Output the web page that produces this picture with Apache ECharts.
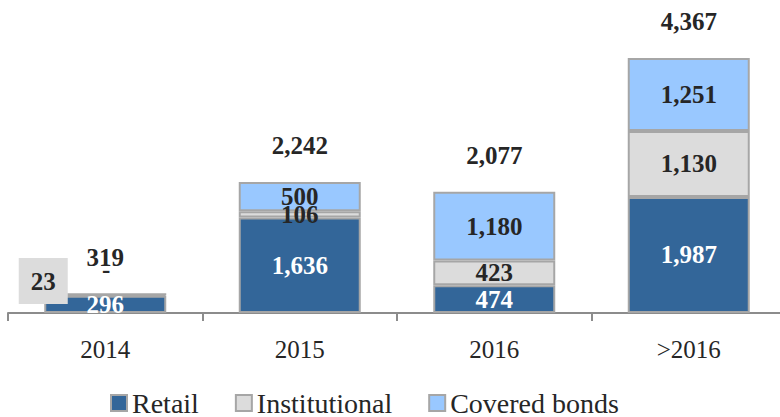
<!DOCTYPE html>
<html>
<head>
<meta charset="utf-8">
<script src="https://cdn.jsdelivr.net/npm/echarts@6/dist/echarts.min.js"></script>
<style>
  html, body { margin: 0; padding: 0; background: #fff; }
  #chart { width: 780px; height: 417px; }
</style>
</head>
<body>
<div id="chart"></div>
<script>
var categories = ['2014', '2015', '2016', '>2016'];
var retail = [296, 1636, 474, 1987];
var institutional = [23, 106, 423, 1130];
var covered = [0, 500, 1180, 1251];
var totals = [319, 2242, 2077, 4367];

var font = 'Liberation Serif';
var ink = '#262626';
var edge = '#a6a6a6';

function fmt(v) {
  return v === 0 ? '-' : v.toLocaleString('en-US');
}

var chart = echarts.init(document.getElementById('chart'), null, { renderer: 'svg' });

var labelBase = {
  show: true,
  position: 'inside',
  fontFamily: font,
  fontWeight: 'bold',
  fontSize: 25,
  color: ink,
  opacity: 1,
  formatter: function(p) { return fmt(p.value); }
};

// 2014 institutional value sits in a grey box to the left of the bar
var instData = institutional.map(function(v, i) {
  if (i === 0) {
    return {
      value: v,
      label: {
        offset: [-62, -14],
        backgroundColor: '#dcdcdc',
        padding: [10, 12],
        lineHeight: 26
      }
    };
  }
  return v;
});

var coveredData = covered.map(function(v, i) {
  if (v === 0) return { value: v, label: { offset: [1, -25] } };
  return v;
});

chart.setOption({
  animation: false,
  grid: { left: 8, width: 778, top: 21, bottom: 104, outerBoundsMode: 'none', containLabel: false },
  legend: {
    data: ['Retail', 'Institutional', 'Covered bonds'],
    left: 110,
    top: 389,
    padding: 0,
    itemWidth: 16,
    itemHeight: 16,
    itemGap: 36,
    icon: 'rect',
    textStyle: { fontFamily: font, fontSize: 28, color: ink }
  },
  xAxis: {
    type: 'category',
    data: categories,
    axisLine: { lineStyle: { color: '#8c8c8c', width: 2 } },
    axisTick: { show: true, length: 8, lineStyle: { color: '#8c8c8c', width: 2 } },
    axisLabel: { fontFamily: font, fontSize: 25, color: ink, margin: 24 }
  },
  yAxis: {
    type: 'value',
    min: 0,
    max: 5000,
    show: false,
    splitLine: { show: false }
  },
  series: [
    {
      name: 'Retail',
      type: 'bar',
      stack: 'total',
      barWidth: 122,
      data: retail,
      itemStyle: { color: '#336699', borderColor: edge, borderWidth: 2 },
      label: Object.assign({}, labelBase, { color: '#ffffff' })
    },
    {
      name: 'Institutional',
      type: 'bar',
      stack: 'total',
      data: instData,
      itemStyle: { color: '#dcdcdc', borderColor: edge, borderWidth: 2 },
      label: labelBase
    },
    {
      name: 'Covered bonds',
      type: 'bar',
      stack: 'total',
      data: coveredData,
      itemStyle: { color: '#99c8ff', borderColor: edge, borderWidth: 2 },
      label: labelBase
    },
    {
      name: 'Total',
      type: 'scatter',
      symbolSize: 0,
      data: totals,
      silent: true,
      itemStyle: { opacity: 1 },
      label: Object.assign({}, labelBase, { position: 'top', distance: 24 })
    }
  ]
});
</script>
</body>
</html>
